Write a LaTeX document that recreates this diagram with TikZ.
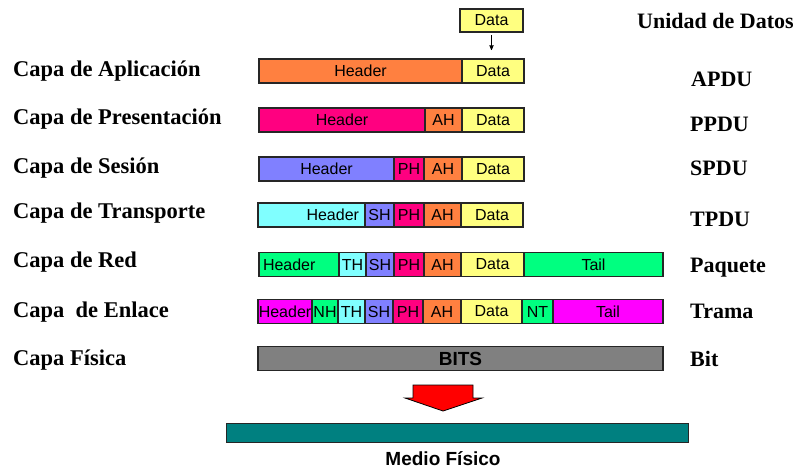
\documentclass[tikz,border=0pt]{standalone}
\usepackage{fontspec}
\setmainfont{Liberation Serif}
\setsansfont{Liberation Sans}
\usepackage{tikz}
\usetikzlibrary{arrows,positioning,shapes.geometric}

\definecolor{appcolor}{HTML}{FF8040}
\definecolor{prescolor}{HTML}{FF0080}
\definecolor{sescolor}{HTML}{8080FF}
\definecolor{transcolor}{HTML}{80FFFF}
\definecolor{redcolor}{HTML}{00FF80}
\definecolor{enlacecolor}{HTML}{FF00FF}
\definecolor{datacolor}{HTML}{FFFF80}
\definecolor{bitcolor}{HTML}{808080}
\definecolor{mediocolor}{HTML}{008080}

\tikzset{
    >=stealth',
    seg/.style={
        rectangle,
        draw=black!85, line width=1.2pt,
        inner sep=0pt, outer sep=0pt,
        minimum height=24pt,
        font={\sffamily\fontsize{16pt}{17}\selectfont}
    },
    capa/.style={
        anchor=base west,
        inner sep=0pt,
        font={\bfseries\fontsize{22.5pt}{24}\selectfont}
    },
    unidad/.style={
        anchor=base west,
        inner sep=0pt,
        font={\bfseries\fontsize{22pt}{24}\selectfont}
    },
}

\begin{document}
\begin{tikzpicture}
[
    x=1pt, y=-1pt,
    next/.style={right=0pt of #1},
]
\useasboundingbox (0,0) rectangle (802,471);

% capas
\node[capa] (aplicacion) at (13,76) {Capa de Aplicación};
\node[capa] (presentacion) at (13,124) {Capa de Presentación};
\node[capa] (sesion) at (13,173) {Capa de Sesión};
\node[capa] (transporte) at (13,218) {Capa de Transporte};
\node[capa] (red) at (13,267) {Capa de Red};
\node[capa] (enlace) at (13,317) {Capa\ \ de Enlace};
\node[capa] (fisica) at (13,365) {Capa Física};

% unidades
\node[unidad] (unidad) at (637,28) {Unidad de Datos};
\node[unidad] (apdu) at (691,86) {APDU};
\node[unidad] (ppdu) at (690,131) {PPDU};
\node[unidad] (spdu) at (690,175) {SPDU};
\node[unidad] (tpdu) at (690,226) {TPDU};
\node[unidad] (paquete) at (690,272) {Paquete};
\node[unidad] (trama) at (690,318) {Trama};
\node[unidad] (bit) at (690,366) {Bit};

% datos
\node[seg, fill=datacolor, minimum width=63pt, minimum height=23pt] (data) at (491.5,20.5) {Data};

\node[seg, fill=appcolor, minimum width=203pt, anchor=west] (a-hdr) at (259,71) {Header};
\node[seg, fill=datacolor, minimum width=62pt, next=a-hdr] (a-data) {Data};

\draw[->, thick, shorten <=3pt, shorten >=9pt] (data.south) -- (data.south |- a-data.north);

\node[seg, fill=prescolor, minimum width=166pt, anchor=west] (p-hdr) at (259,120) {Header};
\node[seg, fill=appcolor, minimum width=37pt, next=p-hdr] (p-ah) {AH};
\node[seg, fill=datacolor, minimum width=62pt, next=p-ah] (p-data) {Data};

\node[seg, fill=sescolor, minimum width=135pt, anchor=west] (s-hdr) at (259,169) {Header};
\node[seg, fill=prescolor, minimum width=30pt, next=s-hdr] (s-ph) {PH};
\node[seg, fill=appcolor, minimum width=38pt, next=s-ph] (s-ah) {AH};
\node[seg, fill=datacolor, minimum width=62pt, next=s-ah] (s-data) {Data};

\node[seg, fill=transcolor, text width=95pt, align=right, inner xsep=6pt, anchor=west] (t-hdr) at (258,215) {Header};
\node[seg, fill=sescolor, minimum width=29pt, next=t-hdr] (t-sh) {SH};
\node[seg, fill=prescolor, minimum width=30pt, next=t-sh] (t-ph) {PH};
\node[seg, fill=appcolor, minimum width=37pt, next=t-ph] (t-ah) {AH};
\node[seg, fill=datacolor, minimum width=62pt, next=t-ah] (t-data) {Data};

\node[seg, fill=redcolor, text width=72pt, align=left, inner xsep=4pt, anchor=west] (r-hdr) at (259,264.5) {Header};
\node[seg, fill=transcolor, minimum width=27pt, next=r-hdr] (r-th) {TH};
\node[seg, fill=sescolor, minimum width=28pt, next=r-th] (r-sh) {SH};
\node[seg, fill=prescolor, minimum width=30pt, next=r-sh] (r-ph) {PH};
\node[seg, fill=appcolor, minimum width=37pt, next=r-ph] (r-ah) {AH};
\node[seg, fill=datacolor, minimum width=63pt, next=r-ah] (r-data) {Data};
\node[seg, fill=redcolor, minimum width=139pt, next=r-data] (r-tail) {Tail};

\node[seg, fill=enlacecolor, minimum width=54pt, anchor=west] (e-hdr) at (258,311.5) {Header};
\node[seg, fill=redcolor, minimum width=26pt, next=e-hdr] (e-nh) {NH};
\node[seg, fill=transcolor, minimum width=27pt, next=e-nh] (e-th) {TH};
\node[seg, fill=sescolor, minimum width=28pt, next=e-th] (e-sh) {SH};
\node[seg, fill=prescolor, minimum width=30pt, next=e-sh] (e-ph) {PH};
\node[seg, fill=appcolor, minimum width=38pt, next=e-ph] (e-ah) {AH};
\node[seg, fill=datacolor, minimum width=61pt, next=e-ah] (e-data) {Data};
\node[seg, fill=redcolor, minimum width=31pt, next=e-data] (e-nt) {NT};
\node[seg, fill=enlacecolor, minimum width=110pt, next=e-nt] (e-tail) {Tail};

\node[seg, fill=bitcolor, minimum width=405pt, anchor=west,
    font={\sffamily\bfseries\fontsize{19pt}{20}\selectfont}] (bits) at (258,358.5) {BITS};

% flecha y medio
\filldraw[fill=red, draw=black, line width=0.8pt]
    (413,385) -- (473,385) -- (473,398) -- (482,398) -- (443,411)
    -- (405,398) -- (413,398) -- cycle;

\node[cylinder, shape border rotate=180, aspect=0.8,
    draw=black!85, line width=1pt,
    cylinder uses custom fill, cylinder body fill=mediocolor,
    cylinder end fill=white!80!mediocolor,
    minimum width=19pt, minimum height=462pt, inner sep=0pt] (medio) at (458,432.5) {};
\node[anchor=base, inner sep=0pt,
    font={\sffamily\bfseries\fontsize{19pt}{20}\selectfont}] (mediotxt) at (443,465) {Medio Físico};
\end{tikzpicture}
\end{document}
